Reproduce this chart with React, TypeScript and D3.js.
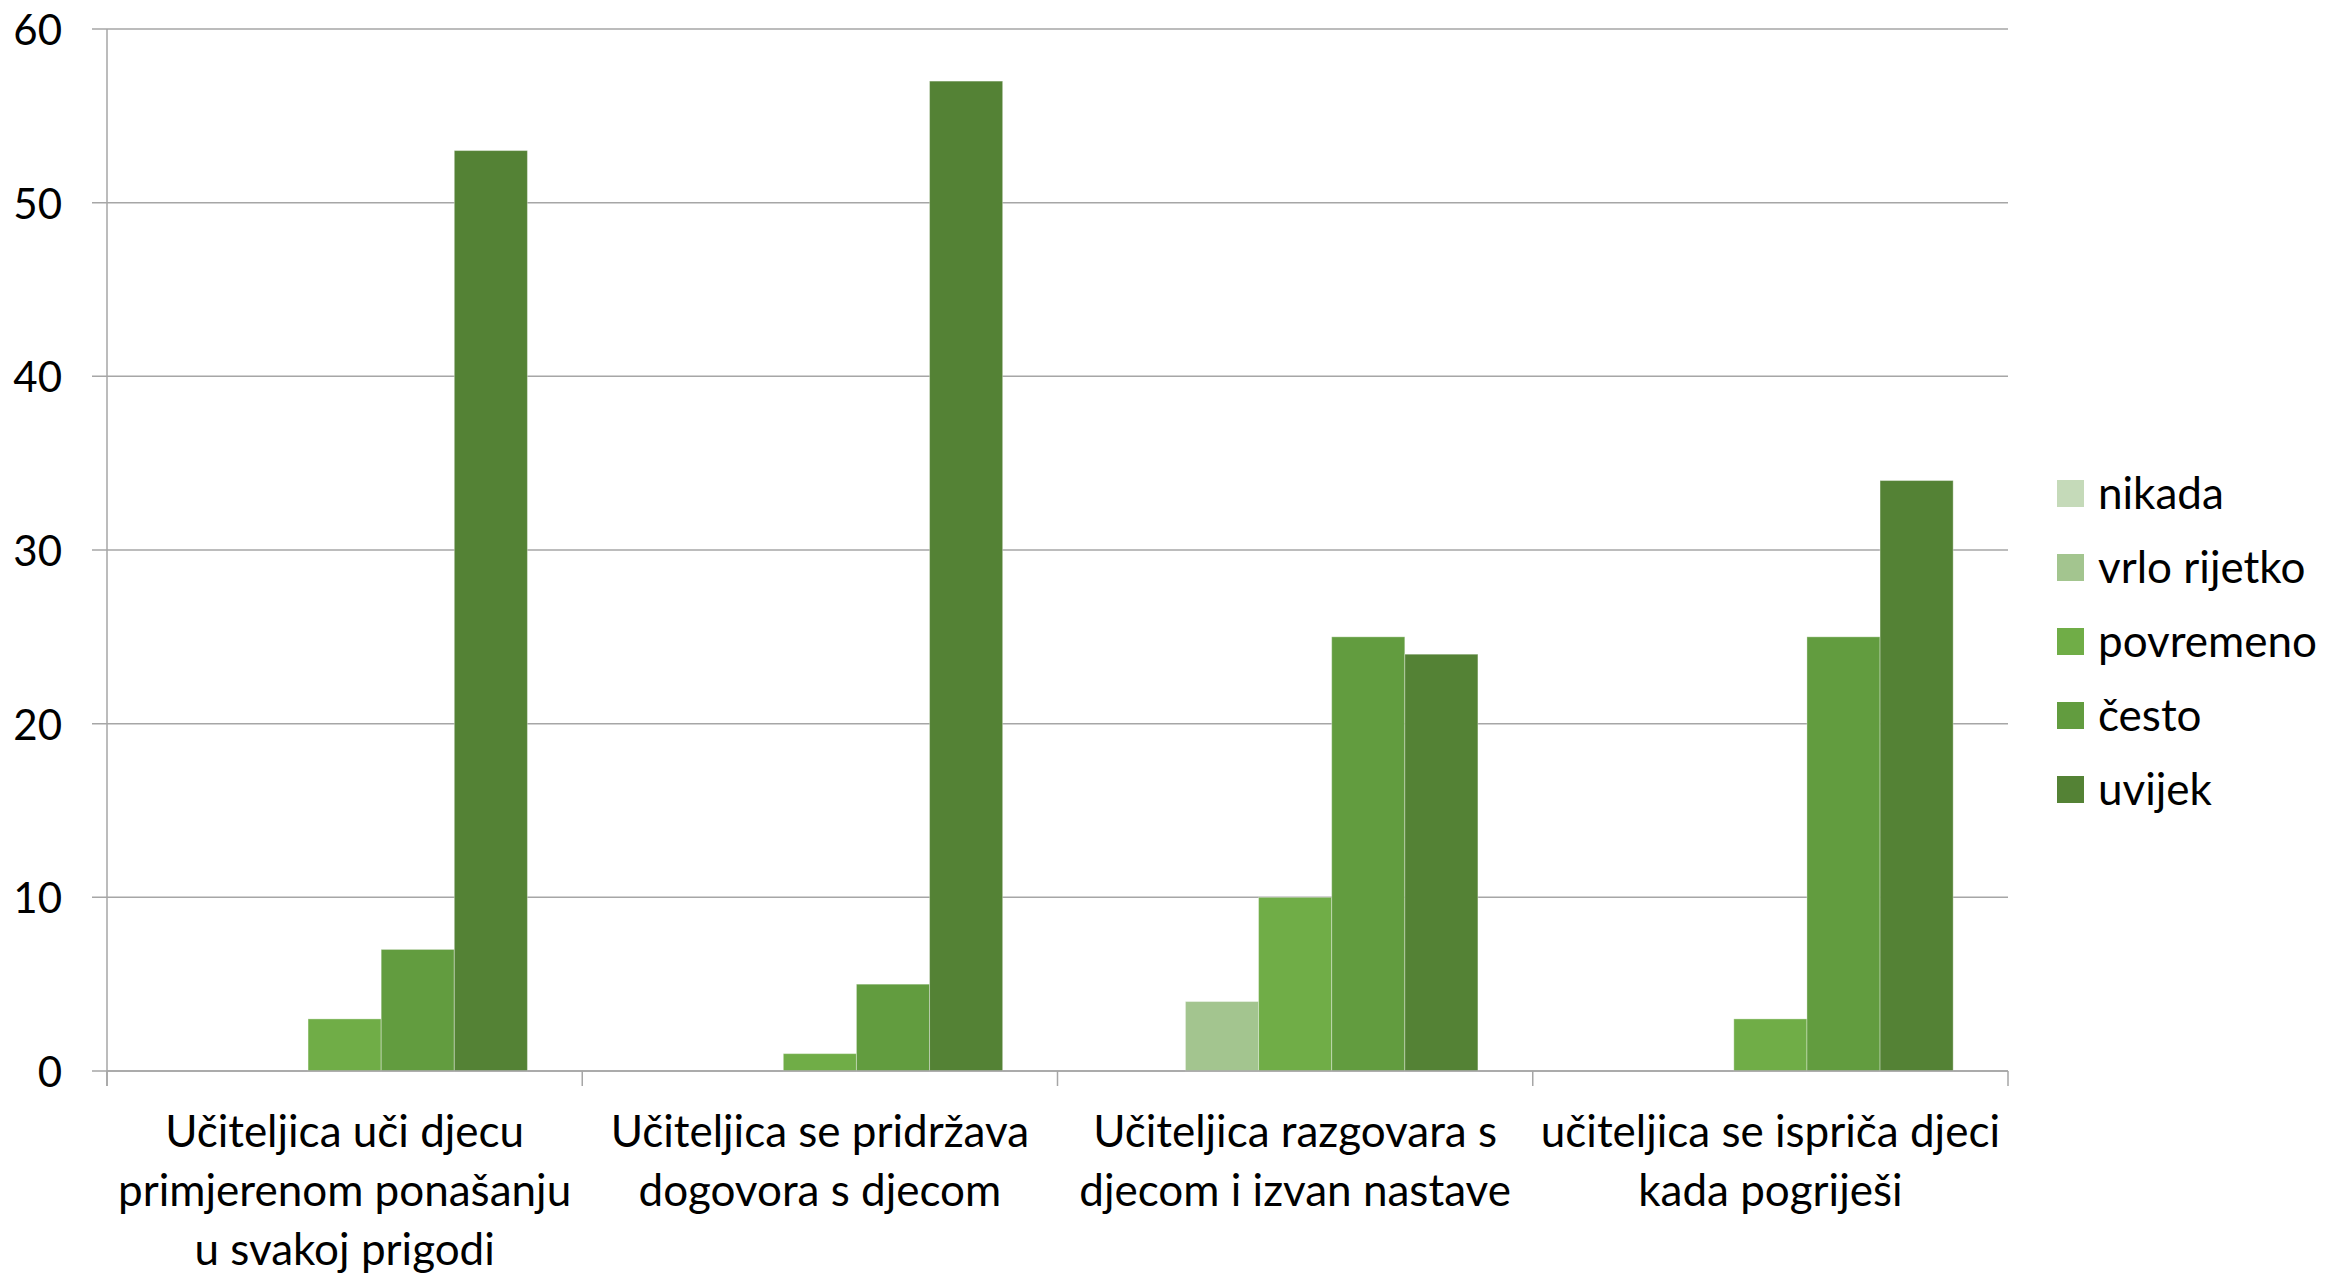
import * as d3 from "d3";

const WIDTH = 2331;
const HEIGHT = 1276;
const MARGIN = { top: 29, right: 323, bottom: 205, left: 107 };

const categories = [
  ["Učiteljica uči djecu", "primjerenom ponašanju", "u svakoj prigodi"],
  ["Učiteljica se pridržava", "dogovora s djecom"],
  ["Učiteljica razgovara s", "djecom i izvan nastave"],
  ["učiteljica se ispriča djeci", "kada pogriješi"],
];

const seriesNames = ["nikada", "vrlo rijetko", "povremeno", "često", "uvijek"];
const seriesColors = ["#c5dab9", "#a3c58f", "#70ad47", "#629c3f", "#548235"];

// one array per series, values per category
const nikada = [0, 0, 0, 0];
const vrloRijetko = [0, 0, 4, 0];
const povremeno = [3, 1, 10, 3];
const cesto = [7, 5, 25, 25];
const uvijek = [53, 57, 24, 34];

const seriesValues = [nikada, vrloRijetko, povremeno, cesto, uvijek];
const yTicks = [0, 10, 20, 30, 40, 50, 60];

const FONT = "Lato, 'Open Sans', sans-serif";

export default function App() {
  const boundsWidth = WIDTH - MARGIN.left - MARGIN.right;
  const boundsHeight = HEIGHT - MARGIN.top - MARGIN.bottom;

  const catIdx = categories.map((_, i) => String(i));
  const xScale = d3.scaleBand().domain(catIdx).range([0, boundsWidth]).padding(0);
  // gap width 150% -> 0.75 bar on each side out of 6.5 bars
  const inner = d3
    .scaleBand()
    .domain(seriesNames)
    .range([0, xScale.bandwidth()])
    .paddingInner(0)
    .paddingOuter(0.75);
  const yScale = d3.scaleLinear().domain([0, 60]).range([boundsHeight, 0]);

  const bars = seriesValues.flatMap((vals, s) =>
    vals.map((v, c) => {
      if (v === 0) return null;
      const x = (xScale(String(c)) ?? 0) + (inner(seriesNames[s]) ?? 0);
      return (
        <rect
          key={`${s}-${c}`}
          x={x}
          y={yScale(v)}
          width={inner.bandwidth()}
          height={boundsHeight - yScale(v)}
          fill={seriesColors[s]}
          stroke="rgba(255,255,255,0.35)"
          strokeWidth={1}
        />
      );
    })
  );

  const grid = yTicks.map((t) => (
    <g key={t}>
      <line
        x1={-15}
        x2={boundsWidth}
        y1={yScale(t)}
        y2={yScale(t)}
        stroke="#a6a6a6"
        strokeWidth={1.5}
      />
      <text
        x={-45}
        y={yScale(t)}
        textAnchor="end"
        dominantBaseline="central"
        fontSize={42}
        fill="#000"
      >
        {t}
      </text>
    </g>
  ));

  const xTicks = d3.range(categories.length + 1).map((i) => {
    const x = i * xScale.bandwidth();
    return (
      <line
        key={i}
        x1={x}
        x2={x}
        y1={boundsHeight}
        y2={boundsHeight + 15}
        stroke="#a6a6a6"
        strokeWidth={1.5}
      />
    );
  });

  const xLabels = categories.map((lines, i) => {
    const cx = (xScale(String(i)) ?? 0) + xScale.bandwidth() / 2;
    return (
      <text key={i} textAnchor="middle" fontSize={44} fill="#000">
        {lines.map((l, j) => (
          <tspan key={j} x={cx} y={boundsHeight + 76 + j * 59}>
            {l}
          </tspan>
        ))}
      </text>
    );
  });

  const legend = seriesNames.map((name, i) => (
    <g key={name} transform={`translate(2057, ${480 + i * 74})`}>
      <rect width={27} height={27} fill={seriesColors[i]} />
      <text x={41} y={12} dominantBaseline="central" fontSize={44} fill="#000">
        {name}
      </text>
    </g>
  ));

  return (
    <svg
      width={WIDTH}
      height={HEIGHT}
      style={{ position: "absolute", left: 0, top: 0, background: "#fff" }}
      fontFamily={FONT}
    >
      <g transform={`translate(${MARGIN.left},${MARGIN.top})`}>
        {grid}
        <line x1={0} x2={0} y1={0} y2={boundsHeight + 15} stroke="#a6a6a6" strokeWidth={1.5} />
        {bars}
        <line
          x1={0}
          x2={boundsWidth}
          y1={boundsHeight}
          y2={boundsHeight}
          stroke="#a6a6a6"
          strokeWidth={1.5}
        />
        {xTicks}
        {xLabels}
      </g>
      {legend}
      <text x={2278} y={1298} textAnchor="middle" fontSize={30} fill="#8c8c8c">
        13
      </text>
    </svg>
  );
}
